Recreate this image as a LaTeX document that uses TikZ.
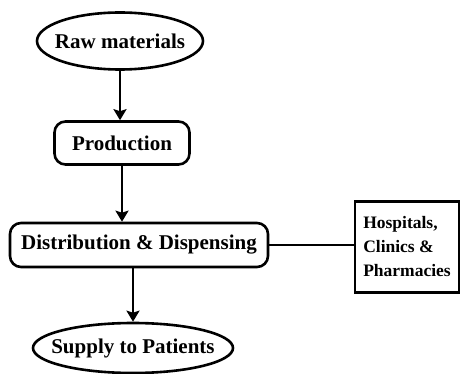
\documentclass[tikz,border=0pt]{standalone}
\usepackage{fontspec}
\setmainfont{Liberation Serif}
\usepackage{tikz}
\usetikzlibrary{arrows.meta,positioning,shapes.geometric}

\begin{document}
\begin{tikzpicture}[
    x=1pt, y=1pt,
    oval_style/.style={ellipse, draw, line width=2.6pt, inner sep=0pt,
        font=\fontsize{21}{24}\selectfont\bfseries},
    round_box_style/.style={rectangle, rounded corners=11pt, draw, line width=2.6pt,
        inner sep=0pt, font=\fontsize{21}{24}\selectfont\bfseries},
    flow_arrow_style/.style={line width=2.6pt, -{Stealth[length=11pt,width=13pt,inset=2pt]}}
]
\useasboundingbox (0,0) rectangle (461,-374);

% main chain
\node[oval_style, minimum width=166pt, minimum height=57pt] (raw) at (120,-41) {\makebox[0pt]{Raw materials}};
\node[round_box_style, minimum width=135pt, minimum height=43pt] (prod) at (122,-143) {Production};
\node[round_box_style, minimum width=258pt, minimum height=44pt] (dist) at (139,-245) {Distribution \& Dispensing};
\node[oval_style, minimum width=200pt, minimum height=50pt] (supply) at (133,-348) {\makebox[0pt]{Supply to Patients}};

% side box
\node[rectangle, draw, line width=2.6pt, minimum width=104pt, minimum height=91pt,
      align=left, inner sep=0pt, font=\fontsize{17.5}{24}\selectfont\bfseries] (hosp) at (407,-247)
      {Hospitals,\\Clinics \&\\Pharmacies\hspace{4pt}};

\draw[flow_arrow_style] (raw.south) -- (raw.south |- prod.north);
\draw[flow_arrow_style] (prod.south) -- (prod.south |- dist.north);
\draw[flow_arrow_style] (dist.south -| supply.north) -- (supply.north);
\draw[line width=2.6pt] (dist.east) -- (hosp.west |- dist.east);

\end{tikzpicture}
\end{document}
